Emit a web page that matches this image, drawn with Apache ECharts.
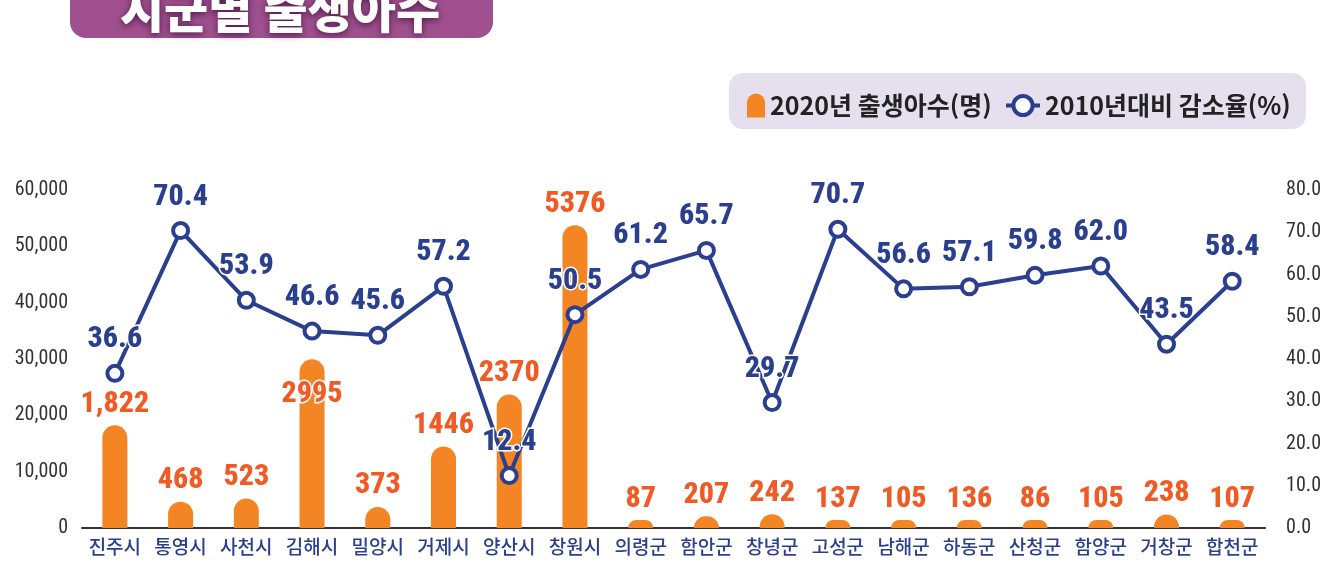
<!DOCTYPE html>
<html lang="ko">
<head>
    <title>시군별 출생아수</title>
    <meta charset="utf-8">
    <script src="https://cdn.jsdelivr.net/npm/echarts@6/dist/echarts.min.js"></script>
    <style>
        body { margin: 0; background: #fff; }
        #chart { width: 1324px; height: 572px; }
    </style>
</head>
<body>
<div id="chart"></div>
<script type="text/javascript">
    // 시군 이름
    var regions = ['진주시', '통영시', '사천시', '김해시', '밀양시', '거제시', '양산시', '창원시', '의령군',
        '함안군', '창녕군', '고성군', '남해군', '하동군', '산청군', '함양군', '거창군', '합천군'];
    // 2020년 출생아수(명)
    var births = [1822, 468, 523, 2995, 373, 1446, 2370, 5376, 87, 207, 242, 137, 105, 136, 86, 105, 238, 107];
    var birthLabels = ['1,822', '468', '523', '2995', '373', '1446', '2370', '5376', '87', '207', '242', '137',
        '105', '136', '86', '105', '238', '107'];
    // 2010년대비 감소율(%)
    var decline = [36.6, 70.4, 53.9, 46.6, 45.6, 57.2, 12.4, 50.5, 61.2, 65.7, 29.7, 70.7, 56.6, 57.1, 59.8, 62.0, 43.5, 58.4];
    // 왼쪽 축 눈금 라벨
    var leftTicks = ['0', '10,000', '20,000', '30,000', '40,000', '50,000', '60,000'];

    var NAVY = '#2a3f8e';
    var ORANGE = '#f48524';
    var LABEL_RED = '#f05a24';
    var KR_FONT = "'Noto Sans CJK KR', sans-serif";

    // 김해시 라벨은 꺾은선 점과 겹치므로 막대 안쪽에 둔다
    var barData = births.map(function (v, i) {
        if (regions[i] === '김해시') {
            return { value: v, label: { position: 'insideTop', distance: 20 } };
        }
        return v;
    });

    var myChart = echarts.init(document.getElementById('chart'));

    var option = {
        animation: false,
        graphic: [
            {
                type: 'rect',
                left: 70, top: -20,
                shape: { width: 423, height: 58, r: 16 },
                style: { fill: '#a0508f' }
            },
            {
                type: 'text',
                x: 280, y: 10,
                style: {
                    text: '시군별 출생아수',
                    fill: '#fff',
                    font: '900 48px ' + KR_FONT,
                    textAlign: 'center',
                    textVerticalAlign: 'middle',
                    textShadowColor: 'rgba(40,0,40,0.7)',
                    textShadowBlur: 7,
                    textShadowOffsetY: 2
                }
            },
            {
                type: 'rect',
                left: 729, top: 73,
                shape: { width: 577, height: 56, r: 14 },
                style: { fill: '#e5dfee' }
            }
        ],
        legend: [
            {
                left: 742, top: 88,
                itemWidth: 18, itemHeight: 24,
                data: [{ name: '2020년 출생아수(명)', icon: 'path://M0,24 L0,9 A9,9 0 0 1 18,9 L18,24 Z' }],
                textStyle: { fontSize: 25, color: '#222', fontFamily: KR_FONT, fontWeight: 'bold' }
            },
            {
                left: 999, top: 88,
                itemWidth: 34, itemHeight: 24,
                data: ['2010년대비 감소율(%)'],
                lineStyle: { width: 4 },
                itemStyle: { borderWidth: 4 },
                textStyle: { fontSize: 25, color: '#222', fontFamily: KR_FONT, fontWeight: 'bold' }
            }
        ],
        grid: { left: 82, right: 57, top: 190, bottom: 44 },
        xAxis: {
            type: 'category',
            data: regions,
            axisLine: { lineStyle: { color: '#333', width: 2 } },
            axisTick: { show: false },
            axisLabel: { interval: 0, color: NAVY, fontSize: 19, fontFamily: KR_FONT, fontWeight: 500, margin: 9 }
        },
        yAxis: [
            {
                type: 'value',
                min: 0, max: 6000, interval: 1000,
                splitLine: { show: false },
                axisLine: { show: false },
                axisLabel: {
                    color: '#333', fontSize: 20, margin: 14,
                    fontStyle: 'condensed',
                    fontFamily: 'Roboto',
                    formatter: function (v) { return leftTicks[Math.round(v / 1000)]; }
                }
            },
            {
                type: 'value',
                min: 0, max: 80, interval: 10,
                splitLine: { show: false },
                axisLine: { show: false },
                axisLabel: {
                    color: '#333', fontSize: 20, margin: 21,
                    fontStyle: 'condensed',
                    fontFamily: 'Roboto',
                    formatter: function (v) { return v.toFixed(1); }
                }
            }
        ],
        series: [
            {
                name: '2020년 출생아수(명)',
                type: 'bar',
                data: barData,
                barWidth: 25,
                barMinHeight: 8,
                itemStyle: { color: ORANGE, borderRadius: [12.5, 12.5, 0, 0] },
                label: {
                    show: true,
                    position: 'top',
                    distance: 6,
                    color: LABEL_RED,
                    fontSize: 30,
                    fontStyle: 'condensed',
                    fontWeight: 800,
                    fontFamily: 'Roboto',
                    textBorderColor: '#fff',
                    textBorderWidth: 3,
                    formatter: function (p) { return birthLabels[p.dataIndex]; }
                }
            },
            {
                name: '2010년대비 감소율(%)',
                type: 'line',
                yAxisIndex: 1,
                data: decline,
                symbol: 'circle',
                symbolSize: 15,
                lineStyle: { color: NAVY, width: 4 },
                itemStyle: { color: '#fff', borderColor: NAVY, borderWidth: 4 },
                label: {
                    show: true,
                    position: 'top',
                    distance: 9,
                    color: NAVY,
                    fontSize: 30,
                    fontStyle: 'condensed',
                    fontWeight: 800,
                    fontFamily: 'Roboto',
                    textBorderColor: '#fff',
                    textBorderWidth: 3,
                    formatter: function (p) { return p.value.toFixed(1); }
                },
                z: 3
            }
        ]
    };

    myChart.setOption(option);
</script>
</body>
</html>
